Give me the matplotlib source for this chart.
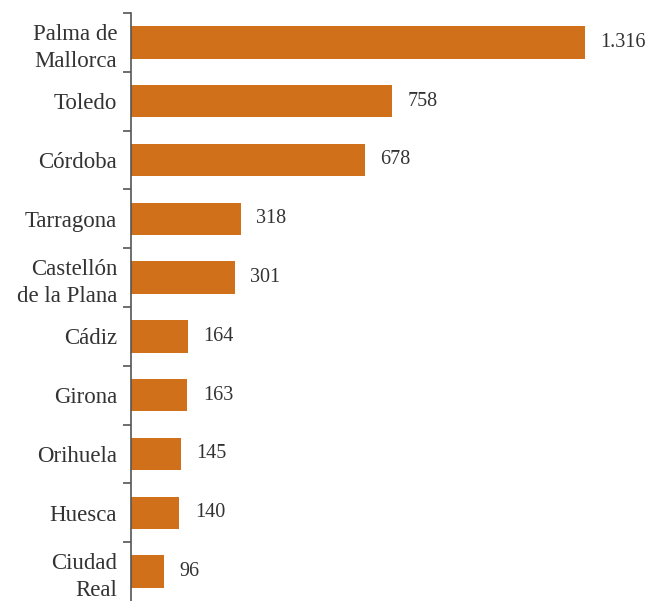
import matplotlib
matplotlib.use("Agg")
import matplotlib.pyplot as plt
import numpy as np

cities = ["Palma de\nMallorca", "Toledo", "Córdoba", "Tarragona",
          "Castellón\nde la Plana", "Cádiz", "Girona", "Orihuela",
          "Huesca", "Ciudad\nReal"]
values = [1316, 758, 678, 318, 301, 164, 163, 145, 140, 96]
value_labels = ["1.316", "758", "678", "318", "301", "164", "163", "145", "140", "96"]

BAR = "#D1701A"
TXT = "#333333"

plt.rcParams["font.family"] = ["Liberation Serif", "DejaVu Serif"]

fig = plt.figure(figsize=(6.46, 6.01), dpi=100)
ax = fig.add_axes([131 / 646, 0.0, 515 / 646, 588 / 601])

y = np.arange(len(cities))
ax.barh(y, values, height=0.55, color=BAR, zorder=2)

for yi, v, lab in zip(y, values, value_labels):
    ax.text(v + 45, yi, lab, va="center", ha="left", fontsize=14.5, color=TXT)

ax.set_xlim(0, 1493)
ax.set_ylim(len(cities) - 0.5, -0.5)

ax.set_yticks(y)
ax.set_yticklabels(cities, fontsize=16.5, color=TXT, linespacing=1.38)
# boundary ticks between categories (the bottom one falls off the figure)
ax.set_yticks(np.arange(len(cities)) - 0.5, minor=True)
ax.tick_params(axis="y", which="major", length=0, pad=10)
ax.tick_params(axis="y", which="minor", length=6, width=1.2, color="#555555")
ax.set_xticks([])

for s in ("top", "right", "bottom"):
    ax.spines[s].set_visible(False)
ax.spines["left"].set_color("#555555")
ax.spines["left"].set_linewidth(1.2)

fig.savefig("out.png", dpi=100)
